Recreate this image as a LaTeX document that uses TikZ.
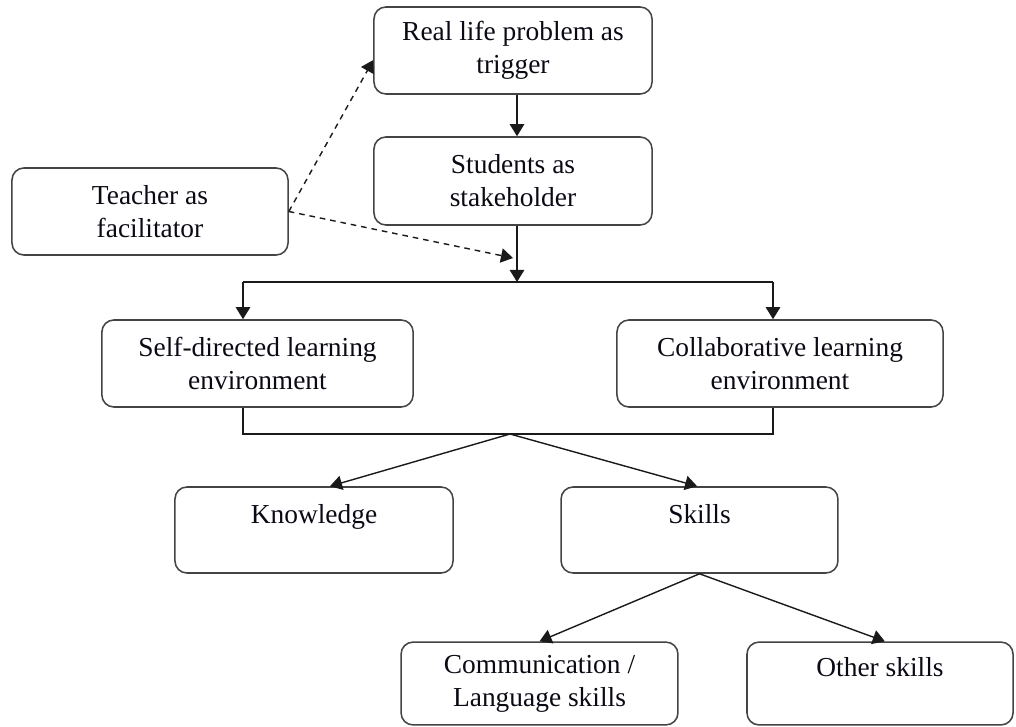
\documentclass[tikz,border=0pt]{standalone}
\usepackage{fontspec}
\setmainfont{Liberation Serif}
\usetikzlibrary{arrows.meta, positioning}
\definecolor{CLine}{HTML}{1A1A1A}
\definecolor{CBorder}{HTML}{444444}
\definecolor{CText}{HTML}{0A0A14}

\begin{document}
\begin{tikzpicture}[
    x=0.025cm, y=-0.025cm,
    % Reusable styles for boxes and connectors
    stage box/.style={draw=CBorder, line width=1.1pt, rounded corners=0.3cm,
        align=center, text=CText, inner sep=2pt,
        font=\fontsize{19.5}{23.4}\selectfont},
    flow/.style={draw=CLine, line width=1pt, -{Triangle[length=0.3cm, width=0.36cm]}},
    plain link/.style={draw=CLine, line width=1pt},
    guide/.style={flow, dash pattern=on 4pt off 3.5pt}
]
    \useasboundingbox (0,0) rectangle (1016,727);

    % -------------------------
    % Top: trigger and students
    % -------------------------
    \node[stage box, minimum width=6.95cm, minimum height=2.175cm] (trigger) at (513,50.5)
        {Real life problem as\\trigger};
    \node[stage box, minimum width=6.95cm, minimum height=2.2cm] (students) at (513,181)
        {Students as\\stakeholder};
    \node[stage box, minimum width=6.9cm, minimum height=2.175cm] (teacher) at (150,211.5)
        {Teacher as\\facilitator};

    % -------------------------
    % Middle: learning environments
    % -------------------------
    \node[stage box, minimum width=7.78cm, minimum height=2.175cm] (selfdir) at (257.5,363.5)
        {Self-directed learning\\environment};
    \node[stage box, minimum width=8.15cm, minimum height=2.175cm] (collab) at (780,363.5)
        {Collaborative learning\\environment};

    % -------------------------
    % Bottom: outcomes
    % -------------------------
    \node[stage box, minimum width=6.95cm, minimum height=2.15cm] (knowledge) at (314,530)
        {Knowledge\\\mbox{}};
    \node[stage box, minimum width=6.92cm, minimum height=2.15cm] (skills) at (699.5,530)
        {Skills\\\mbox{}};
    \node[stage box, minimum width=6.92cm, minimum height=2.07cm] (commskills) at (539.5,683.5)
        {Communication /\\Language skills};
    \node[stage box, minimum width=6.65cm, minimum height=2.07cm] (otherskills) at (880,683.5)
        {Other skills\\\mbox{}};

    % Branch and join points of the elbow connectors
    \coordinate (split) at (517,282);
    \coordinate (splitL) at (243,282);
    \coordinate (splitR) at (773,282);
    \coordinate (join) at (510,434);
    \coordinate (joinL) at (243,434);
    \coordinate (joinR) at (773,434);
    \coordinate (facilitate) at (513,258);

    % Main flow
    \draw[flow] (split |- trigger.south) -- (split |- students.north);
    \draw[flow] (split |- students.south) -- (split);
    \draw[plain link] (splitL) -- (splitR);
    \draw[flow] (splitL) -- (splitL |- selfdir.north);
    \draw[flow] (splitR) -- (splitR |- collab.north);
    \draw[plain link] (joinL |- selfdir.south) -- (joinL) -- (joinR) -- (joinR |- collab.south);
    \draw[flow] (join) -- ([xshift=0.4cm]knowledge.north);
    \draw[flow] (join) -- ([xshift=-0.06cm]skills.north);
    \draw[flow] (skills.south) -- (commskills.north);
    \draw[flow] (skills.south) -- ([xshift=0.12cm]otherskills.north);

    % Teacher guidance (dashed)
    \draw[guide] (teacher.east) -- ([yshift=-0.24cm]trigger.west);
    \draw[guide] (teacher.east) -- (facilitate);

\end{tikzpicture}
\end{document}
